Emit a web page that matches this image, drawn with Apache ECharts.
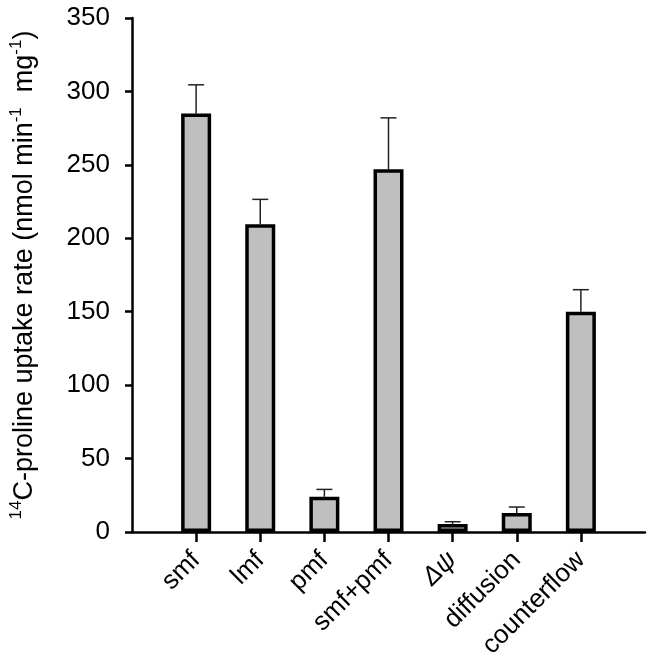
<!DOCTYPE html>
<html>
<head>
<meta charset="utf-8">
<script src="https://cdn.jsdelivr.net/npm/echarts@6/dist/echarts.min.js"></script>
<style>
  html, body { margin: 0; padding: 0; background: #fff; }
  #chart { width: 653px; height: 666px; }
</style>
</head>
<body>
<div id="chart"></div>
<script>
// values
const categories = ["smf", "lmf", "pmf", "smf+pmf", "Δψ", "diffusion", "counterflow"]
const rates = [285, 209.5, 24, 247, 5.5, 13, 150]
const errors = [19.5, 17, 5, 35, 1.5, 4, 15]
const yTicks = [0, 50, 100, 150, 200, 250, 300, 350]

const FONT = '"Liberation Sans", Arial, sans-serif'
const BAR_GRAY = "#bfbfbf"

// empty slot at both ends so the bars sit at positions 1..7 of 0..8
const axisCats = ["", ...categories, ""]
const pad = v => [null, ...v, null]

const chart = echarts.init(document.getElementById("chart"))

const option = {
    animation: false,
    backgroundColor: "#fff",
    grid: { left: 129, right: 8, top: 18, bottom: 134 },
    xAxis: {
        type: "category",
        data: axisCats,
        boundaryGap: false,
        axisLine: { lineStyle: { color: "#000", width: 2.5 } },
        axisTick: {
            length: 10,
            interval: i => i > 0 && i < axisCats.length - 1,
            lineStyle: { color: "#000", width: 2.5 }
        },
        axisLabel: {
            interval: 0,
            rotate: 45,
            margin: 24,
            color: "#000",
            fontSize: 26,
            fontFamily: FONT,
            formatter: v => v === "Δψ" ? "{it|" + v + "}" : v,
            rich: { it: { fontStyle: "italic", fontSize: 26, fontFamily: FONT, color: "#000" } }
        },
        splitLine: { show: false }
    },
    yAxis: {
        type: "value",
        min: yTicks[0],
        max: yTicks[yTicks.length - 1],
        interval: 50,
        axisLine: { show: true, lineStyle: { color: "#000", width: 2.5 } },
        axisTick: { show: true, length: 7, lineStyle: { color: "#000", width: 2.5 } },
        splitLine: { show: false },
        axisLabel: { color: "#000", fontSize: 26, fontFamily: FONT, margin: 22 },
        name: "{sup|14}C-proline uptake rate (nmol min{sup|-1}  mg{sup|-1})",
        nameLocation: "middle",
        nameGap: 90,
        nameRotate: 90,
        nameTextStyle: {
            color: "#000",
            fontSize: 27,
            fontFamily: FONT,
            rich: {
                sup: { fontSize: 17, fontFamily: FONT, color: "#000", verticalAlign: "top", lineHeight: 34 }
            }
        }
    },
    series: [
        {
            type: "bar",
            data: pad(rates),
            barWidth: 30,
            itemStyle: { color: BAR_GRAY, borderColor: "#000", borderWidth: 3.5 },
            z: 3
        },
        {
            type: "custom",
            z: 2,
            data: pad(rates.map((r, i) => [i + 1, r, errors[i]])).map((d, i) => d || [i, null, null]),
            renderItem(params, api) {
                const val = api.value(1)
                if (val == null || isNaN(val)) return
                const x = api.value(0)
                const base = api.coord([x, val])
                const top = api.coord([x, val + api.value(2)])
                const half = 8
                const style = { stroke: "#222", lineWidth: 1.5 }
                return {
                    type: "group",
                    children: [
                        { type: "line", shape: { x1: base[0], y1: base[1], x2: top[0], y2: top[1] }, style },
                        { type: "line", shape: { x1: top[0] - half, y1: top[1], x2: top[0] + half, y2: top[1] }, style }
                    ]
                }
            }
        }
    ]
}

chart.setOption(option)
</script>
</body>
</html>
